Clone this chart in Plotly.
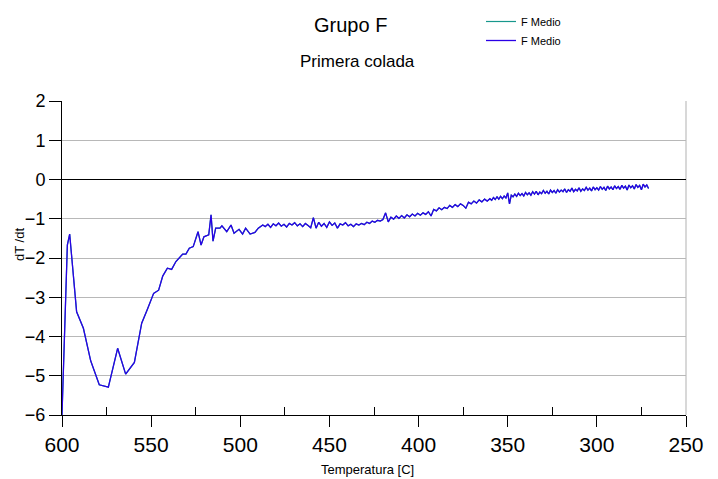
import numpy as np
import plotly.graph_objects as go

# ---- Cooling curve derivative, "F Medio" (first pour) ----
# Coarse readings near the start of solidification
temp_start = [600.0, 597.0, 595.7, 591.8, 588.0, 583.9, 579.1, 574.0, 568.8, 564.3,
              559.4, 555.3, 552.2, 548.6, 545.8, 543.5, 540.9, 538.5, 536.1, 532.3,
              530.5, 528.6, 526.4, 523.7, 522.0, 520.4, 517.7, 516.4, 515.3, 513.8,
              511.4, 510.3, 507.6, 505.2, 503.5, 500.7, 498.7, 497.0, 494.5, 491.8,
              489.9, 487.4]
rate_start = [-6.00, -1.67, -1.39, -3.37, -3.79, -4.62, -5.23, -5.29, -4.30, -4.96,
              -4.66, -3.66, -3.32, -2.90, -2.82, -2.46, -2.26, -2.29, -2.09, -1.90,
              -1.90, -1.75, -1.71, -1.33, -1.67, -1.46, -1.41, -0.90, -1.57, -1.24,
              -1.24, -1.18, -1.33, -1.16, -1.37, -1.27, -1.39, -1.24, -1.39, -1.35,
              -1.24, -1.16]

# Readings every 1.5 C from 486 C to 360 C
temp_mid = np.arange(486.0, 359.9, -1.5)
rate_mid = [-1.20, -1.14, -1.22, -1.13, -1.18, -1.11, -1.19, -1.14, -1.21, -1.12,
            -1.16, -1.10, -1.18, -1.13, -1.20, -1.12, -1.17, -1.23, -0.97, -1.24,
            -1.09, -1.19, -1.12, -1.22, -1.08, -1.17, -1.11, -1.24, -1.13, -1.16,
            -1.10, -1.18, -1.14, -1.20, -1.13, -1.16, -1.12, -1.15, -1.09, -1.12,
            -1.06, -1.09, -1.04, -1.06, -1.02, -0.85, -1.08, -0.96, -1.01, -0.93,
            -0.99, -0.92, -0.98, -0.90, -0.95, -0.88, -0.93, -0.86, -0.91, -0.85,
            -0.89, -0.82, -0.93, -0.76, -0.80, -0.72, -0.77, -0.71, -0.74, -0.66,
            -0.71, -0.64, -0.69, -0.62, -0.66, -0.73, -0.58, -0.62, -0.55, -0.60,
            -0.52, -0.57, -0.50, -0.55, -0.49]

# Readings every 1 C from 359 C to 271 C
temp_end = np.arange(359.0, 270.5, -1.0)
rate_end = [-0.53, -0.46, -0.51, -0.44, -0.50, -0.43, -0.49, -0.42, -0.47, -0.34,
            -0.62, -0.40, -0.44, -0.37, -0.43, -0.35, -0.41, -0.36, -0.42, -0.33,
            -0.39, -0.34, -0.40, -0.31, -0.37, -0.30, -0.39, -0.32, -0.36, -0.28,
            -0.35, -0.30, -0.37, -0.27, -0.33, -0.28, -0.35, -0.26, -0.32, -0.27,
            -0.31, -0.24, -0.33, -0.26, -0.30, -0.22, -0.31, -0.25, -0.29, -0.21,
            -0.30, -0.24, -0.28, -0.20, -0.27, -0.22, -0.29, -0.19, -0.26, -0.21,
            -0.27, -0.18, -0.25, -0.20, -0.28, -0.17, -0.24, -0.19, -0.26, -0.16,
            -0.23, -0.18, -0.25, -0.15, -0.22, -0.17, -0.27, -0.14, -0.21, -0.16,
            -0.24, -0.13, -0.20, -0.15, -0.26, -0.12, -0.19, -0.14, -0.23]

temperature = list(temp_start) + list(temp_mid) + list(temp_end)
rate = rate_start + rate_mid + rate_end

FONT = "Liberation Sans, Arial, sans-serif"

fig = go.Figure()
fig.add_trace(go.Scatter(x=temperature, y=rate, mode="lines", name="F Medio",
                         line=dict(color="#17978c", width=1.2)))
fig.add_trace(go.Scatter(x=temperature, y=rate, mode="lines", name="F Medio",
                         line=dict(color="#2a00e6", width=1.3)))

# plot area: x 62..686 px, y 101..415 px
L, R, T, B = 62, 686, 101, 415
W, H = 718, 479


def px(xp):
    return (xp - L) / (R - L)


def py(yp):
    return (B - yp) / (B - T)


annotations = [
    dict(text="Grupo F", x=px(350), y=py(25), font=dict(size=20)),
    dict(text="Primera colada", x=px(357.5), y=py(62), font=dict(size=17)),
    dict(text="Temperatura [C]", x=px(367.5), y=py(469), font=dict(size=13)),
    dict(text="dT /dt", x=px(19), y=py(245), textangle=-90, font=dict(size=13)),
]
for a in annotations:
    a.update(xref="paper", yref="paper", showarrow=False,
             xanchor="center", yanchor="middle")
    a["font"].update(family=FONT, color="black")

fig.update_layout(
    width=W, height=H,
    margin=dict(l=L, r=W - R, t=T, b=H - B, pad=0, autoexpand=False),
    paper_bgcolor="white", plot_bgcolor="white",
    font=dict(family=FONT, color="black"),
    annotations=annotations,
    showlegend=True,
    legend=dict(x=px(481), y=py(7), xanchor="left", yanchor="top",
                font=dict(size=11, family=FONT), bgcolor="rgba(0,0,0,0)",
                itemwidth=30, tracegroupgap=0),
    shapes=[dict(type="line", xref="x domain", yref="y domain",
                 x0=1, x1=1, y0=0, y1=1,
                 line=dict(color="#d8d8d8", width=2), layer="below")],
)

fig.update_xaxes(
    range=[600, 250], tick0=0, dtick=50,
    ticks="outside", ticklen=11, tickwidth=1, tickcolor="black",
    showline=True, linecolor="black", linewidth=1,
    showgrid=False, zeroline=False,
    tickfont=dict(size=21, family=FONT, color="black"),
    minor=dict(tick0=25, dtick=50, ticks="inside", ticklen=8,
               tickwidth=1, tickcolor="black", showgrid=False),
)
fig.update_yaxes(
    range=[-6, 2], tick0=0, dtick=1,
    ticks="outside", ticklen=12, tickwidth=1, tickcolor="black",
    showline=True, linecolor="black", linewidth=1,
    showgrid=True, gridcolor="#b8b8b8", gridwidth=1,
    zeroline=True, zerolinecolor="black", zerolinewidth=1,
    tickfont=dict(size=18, family=FONT, color="black"),
)

fig.write_html("out.html")
